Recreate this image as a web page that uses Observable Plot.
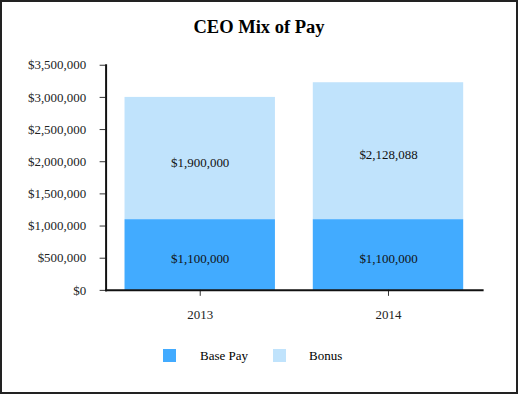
<!DOCTYPE html>
<html>
<head>
<meta charset="utf-8">
<script src="https://cdn.jsdelivr.net/npm/d3@7"></script>
<script src="https://cdn.jsdelivr.net/npm/@observablehq/plot@0.6"></script>
<style>
  html, body { margin: 0; padding: 0; background: #fff; }
  #wrap { position: relative; width: 518px; height: 394px; box-sizing: border-box; border: 2px solid #222; font-family: "Liberation Serif", "Times New Roman", serif; }
  #title { position: absolute; left: 0; right: 0; top: 15px; text-align: center; font-weight: bold; font-size: 18.5px; color: #000; }
  #chart { position: absolute; left: -2px; top: -2px; }
  #chart svg text { font-family: "Liberation Serif", "Times New Roman", serif; font-size: 13px; }
  #legend { position: absolute; top: 347px; left: 0; width: 518px; font-size: 13px; color: #000; }
  .sw { position: absolute; width: 13px; height: 13px; top: 0; }
  .lb { position: absolute; top: -1px; }
</style>
</head>
<body>
<div id="wrap">
  <div id="title">CEO Mix of Pay</div>
  <div id="chart"></div>
  <div id="legend"></div>
</div>
<script>
const years = ["2013", "2014"];
const series = ["Base Pay", "Bonus"];
const basePay = [1100000, 1100000];
const bonus = [1900000, 2128088];
const yTicks = [0, 500000, 1000000, 1500000, 2000000, 2500000, 3000000, 3500000];
const colors = ["#42abff", "#c0e3fc"];

const fmt = d => "$" + d3.format(",")(d);
const rows = [];
years.forEach((yr, i) => {
  rows.push({year: yr, series: series[0], value: basePay[i], y1: 0, y2: basePay[i]});
  rows.push({year: yr, series: series[1], value: bonus[i], y1: basePay[i], y2: basePay[i] + bonus[i]});
});

const chart = Plot.plot({
  width: 518,
  height: 394,
  marginTop: 65,
  marginBottom: 103,
  marginLeft: 106,
  marginRight: 34,
  style: {fontFamily: "'Liberation Serif', 'Times New Roman', serif", fontSize: "13px", color: "#222", background: "transparent"},
  x: {domain: years, paddingInner: 0.2, paddingOuter: 0.1, label: null},
  y: {domain: [0, 3500000], label: null},
  color: {domain: series, range: colors},
  marks: [
    Plot.rectY(rows, {x: "year", y1: "y1", y2: "y2", fill: "series"}),
    Plot.text(rows, {x: "year", y: d => (d.y1 + d.y2) / 2, dy: 4, text: d => fmt(d.value), fill: "#111", fontSize: 13}),
    Plot.axisY({ticks: yTicks, tickFormat: fmt, tickSize: 6, tickPadding: 14, fill: "#222", stroke: "#333"}),
    Plot.axisX({tickSize: 6, tickPadding: 14, fill: "#222", stroke: "#333"}),
    Plot.frame({anchor: "left", stroke: "#111", strokeWidth: 2}),
    Plot.frame({anchor: "bottom", stroke: "#111", strokeWidth: 2})
  ]
});
document.getElementById("chart").appendChild(chart);

const legend = document.getElementById("legend");
const pos = [[161, 198], [271, 307]];
series.forEach((s, i) => {
  const sw = document.createElement("div");
  sw.className = "sw"; sw.style.left = pos[i][0] + "px"; sw.style.background = colors[i];
  const lb = document.createElement("div");
  lb.className = "lb"; lb.style.left = pos[i][1] + "px"; lb.textContent = s;
  legend.appendChild(sw); legend.appendChild(lb);
});
</script>
</body>
</html>
